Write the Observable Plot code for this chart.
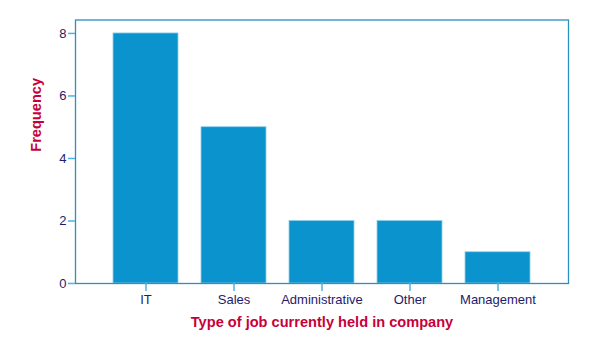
<!DOCTYPE html>
<html>
<head>
<meta charset="utf-8">
<script src="https://cdn.jsdelivr.net/npm/d3@7"></script>
<script src="https://cdn.jsdelivr.net/npm/@observablehq/plot@0.6"></script>
<style>
  html, body { margin: 0; padding: 0; background: #fff; }
  #chart { width: 600px; height: 354px; }
</style>
</head>
<body>
<div id="chart"></div>
<script>
const categories = ["IT", "Sales", "Administrative", "Other", "Management"];
const counts = [8, 5, 2, 2, 1];
const yTicks = [0, 2, 4, 6, 8];
const xTitle = "Type of job currently held in company";
const yTitle = "Frequency";

const data = categories.map((c, i) => ({category: c, count: counts[i]}));

const navy = "#1e1b6b";
const tickBlue = "#4fb3de";
const titleRed = "#c8003a";

const chart = Plot.plot({
  width: 600,
  height: 354,
  marginLeft: 75,
  marginRight: 32,
  marginTop: 19.5,
  marginBottom: 71,
  style: {fontFamily: "'Liberation Sans', Arial, sans-serif", fontSize: "13px", background: "#fff"},
  x: {domain: categories, paddingInner: 0.267, paddingOuter: 0.4125, axis: null},
  y: {domain: [0, 8.43], axis: null},
  marks: [
    Plot.barY(data, {x: "category", y: "count", fill: "#0b93cd", stroke: "#8fd0ec", strokeWidth: 0.8}),
    Plot.frame({stroke: "#2b8fc0", strokeWidth: 1.3}),
    Plot.axisY({ticks: yTicks, tickSize: 7, tickPadding: 2, stroke: tickBlue, fill: navy, strokeWidth: 1.5, fontSize: 13, label: null}),
    Plot.axisX({tickSize: 8, tickPadding: 3, stroke: tickBlue, fill: navy, strokeWidth: 1.5, fontSize: 13, label: null}),
    Plot.text([yTitle], {text: d => d, frameAnchor: "left", dx: -39, rotate: -90, fill: titleRed, fontWeight: "bold", fontSize: 14.6}),
    Plot.text([xTitle], {text: d => d, frameAnchor: "bottom", dy: 43, fill: titleRed, fontWeight: "bold", fontSize: 14.6})
  ]
});
document.getElementById("chart").appendChild(chart);
</script>
</body>
</html>
